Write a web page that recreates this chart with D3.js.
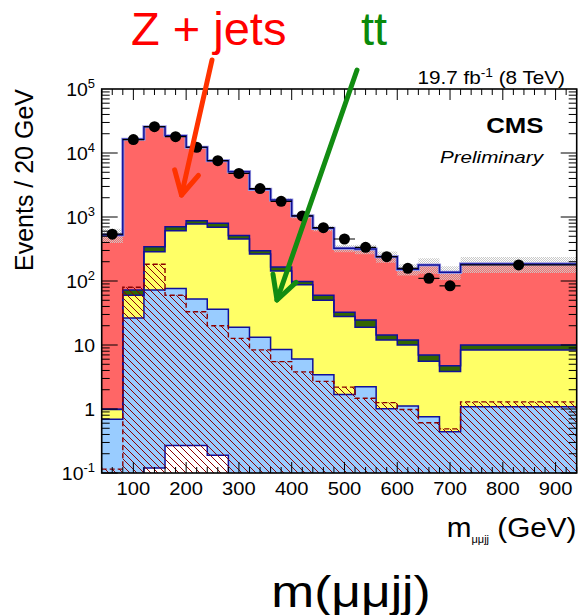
<!DOCTYPE html>
<html>
<head>
<meta charset="utf-8">
<script src="https://cdn.jsdelivr.net/npm/d3@7"></script>
<style>
  body { margin: 0; background: #fff; }
  svg { display: block; font-family: "Liberation Sans", Arial, Helvetica, sans-serif; }
</style>
</head>
<body>
<svg id="chart" width="579" height="615"></svg>
<script>
// m(mumujj) bins, GeV
const binEdges = [40, 80, 120, 160, 200, 240, 280, 320, 360, 400, 440, 480, 520, 560, 600, 640, 680, 720, 940];

// stacked backgrounds, events per bin
const otherBkg     = [0.02, 0.02, 0.12, 0.27, 0.27, 0.19, 0.02, 0.02, 0.02, 0.02, 0.02, 0.02, 0.02, 0.02, 0.02, 0.02, 0.02, 0.02];
const dibosonBkg   = [0.67, 26.5, 72, 76, 52, 36, 19, 13.2, 8.5, 6.0, 3.4, 1.66, 2.2, 0.99, 1.09, 0.74, 0.42, 1.06];
const ttbarBkg     = [0.29, 33.5, 215, 535, 724, 654, 434, 252, 134.5, 81, 46.6, 26.3, 16.8, 11, 8.9, 4.8, 3.4, 7.3];
const singleTopBkg = [0.01, 12, 57, 94, 96, 110, 62, 31, 22, 11, 10, 4.5, 5.6, 2.3, 2, 1.4, 0.9, 1.6];
const zjetsBkg     = [524, 16330, 25360, 17900, 11430, 6800, 4585, 2414, 1680, 942, 606, 292, 291, 226, 140, 171, 132, 175];
const bkgSystFrac  = [0.25, 0.04, 0.04, 0.04, 0.04, 0.04, 0.05, 0.06, 0.06, 0.08, 0.1, 0.13, 0.17, 0.2, 0.2, 0.27, 0.24, 0.28];

// hatched overlay (dashed outline)
const signalHist = [0.115, 80, 183, 60, 33, 20, 12.7, 8.4, 5.5, 3.8, 2.7, 2.2, 1.47, 1.26, 0.98, 0.61, 0.49, 1.29];

// observed data
const dataCounts = [540, 16200, 25800, 18000, 12300, 7600, 4800, 2780, 1760, 1040, 680, 453, 336, 240, 158, 110, 84, 178];

const xTickLabels = [100, 200, 300, 400, 500, 600, 700, 800, 900];
const yTickExps = [-1, 0, 1, 2, 3, 4, 5];

const nBins = binEdges.length - 1;
const svg = d3.select("#chart");

const x = d3.scaleLinear().domain([40, 940]).range([101.7, 576.7]);
const y = d3.scaleLog().domain([0.1, 1e5]).range([473, 89]);
const yv = v => y(Math.max(v, 0.01));

const defs = svg.append("defs");
defs.append("clipPath").attr("id", "plotclip")
  .append("rect").attr("x", x(40)).attr("y", y(1e5))
  .attr("width", x(940) - x(40)).attr("height", y(0.1) - y(1e5));

let hatch = defs.append("pattern").attr("id", "hatch")
  .attr("patternUnits", "userSpaceOnUse").attr("width", 7).attr("height", 7);
[[0, 0, 7, 7], [-1, 6, 1, 8], [6, -1, 8, 1]].forEach(l => {
  hatch.append("line").attr("x1", l[0]).attr("y1", l[1]).attr("x2", l[2]).attr("y2", l[3])
    .attr("stroke", "#8b0000").attr("stroke-width", 1).attr("shape-rendering", "crispEdges");
});
let stip = defs.append("pattern").attr("id", "stipple")
  .attr("patternUnits", "userSpaceOnUse").attr("width", 2).attr("height", 2);
stip.append("rect").attr("x", 0).attr("y", 0).attr("width", 1).attr("height", 1).attr("fill", "#c8c8c8");
stip.append("rect").attr("x", 1).attr("y", 1).attr("width", 1).attr("height", 1).attr("fill", "#c8c8c8");

// stack
const keys = ["other", "diboson", "ttbar", "singletop", "zjets"];
const colors = { other: "#ffffff", diboson: "#99ccff", ttbar: "#ffff66", singletop: "#336600", zjets: "#ff6666" };
const rows = d3.range(nBins).map(i => ({
  other: otherBkg[i], diboson: dibosonBkg[i], ttbar: ttbarBkg[i],
  singletop: singleTopBkg[i], zjets: zjetsBkg[i]
}));
const stacked = d3.stack().keys(keys)(rows);

let steps = (lo, hi) => {
  const pts = [];
  for (let i = 0; i < nBins; i++) {
    pts.push({ x: binEdges[i], lo: lo(i), hi: hi(i) });
    pts.push({ x: binEdges[i + 1], lo: lo(i), hi: hi(i) });
  }
  return pts;
};
const area = d3.area().x(d => x(d.x)).y0(d => yv(d.lo)).y1(d => yv(d.hi));
const topLine = d3.line().x(d => x(d.x)).y(d => yv(d.hi));

const plot = svg.append("g").attr("clip-path", "url(#plotclip)");

stacked.forEach(s => {
  plot.append("path")
    .attr("d", area(steps(i => s[i][0] || 0.001, i => s[i][1])))
    .attr("fill", colors[s.key]);
});

// syst band round the total
const totals = stacked[stacked.length - 1].map(d => d[1]);
plot.append("path")
  .attr("d", area(steps(i => totals[i] * (1 - bkgSystFrac[i]), i => totals[i] * (1 + bkgSystFrac[i]))))
  .attr("fill", "url(#stipple)");

stacked.forEach(s => {
  const last = s.key === "zjets";
  if (last) {
    plot.append("path").attr("d", topLine(steps(i => 0, i => s[i][1])))
      .attr("fill", "none").attr("stroke", "#9a9ae0").attr("stroke-width", 3.2);
  }
  plot.append("path")
    .attr("d", topLine(steps(i => 0, i => s[i][1])))
    .attr("fill", "none").attr("stroke", "#10109a").attr("stroke-width", 1.5);
});

// hatched overlay
plot.append("path")
  .attr("d", area(steps(i => 0.001, i => signalHist[i])))
  .attr("fill", "url(#hatch)");
plot.append("path")
  .attr("d", topLine(steps(i => 0, i => signalHist[i])))
  .attr("fill", "none").attr("stroke", "#8b0000").attr("stroke-width", 1.4)
  .attr("stroke-dasharray", "5,3");

// data
const centers = d3.range(nBins).map(i => (binEdges[i] + binEdges[i + 1]) / 2);
plot.selectAll(".xerr").data(dataCounts).enter().append("line")
  .attr("class", "xerr")
  .attr("x1", (d, i) => x(binEdges[i])).attr("x2", (d, i) => x(binEdges[i + 1]))
  .attr("y1", d => y(d)).attr("y2", d => y(d))
  .attr("stroke", "#000").attr("stroke-width", 1.2);
plot.selectAll(".dot").data(dataCounts).enter().append("circle")
  .attr("class", "dot")
  .attr("cx", (d, i) => x(centers[i])).attr("cy", d => y(d))
  .attr("r", 5.5).attr("fill", "#000");

// ticks, all pointing inward
const tk = svg.append("g").attr("stroke", "#000").attr("stroke-width", 1);
d3.range(40, 941, 20).forEach(v => {
  const len = v % 100 === 0 ? 11 : 6;
  tk.append("line").attr("x1", x(v)).attr("x2", x(v)).attr("y1", y(0.1)).attr("y2", y(0.1) - len);
  tk.append("line").attr("x1", x(v)).attr("x2", x(v)).attr("y1", y(1e5)).attr("y2", y(1e5) + len);
});
for (let e = -1; e < 5; e++) {
  for (let m = 1; m < 10; m++) {
    const v = m * Math.pow(10, e);
    const len = m === 1 ? 16 : 8;
    tk.append("line").attr("x1", x(40)).attr("x2", x(40) + len).attr("y1", y(v)).attr("y2", y(v));
    tk.append("line").attr("x1", x(940)).attr("x2", x(940) - len).attr("y1", y(v)).attr("y2", y(v));
  }
}
svg.append("rect")
  .attr("x", x(40)).attr("y", y(1e5))
  .attr("width", x(940) - x(40)).attr("height", y(0.1) - y(1e5))
  .attr("fill", "none").attr("stroke", "#000").attr("stroke-width", 1.6);

// tick labels
xTickLabels.forEach(v => {
  svg.append("text")
    .attr("transform", `translate(${x(v)},495) scale(1.12,1)`)
    .attr("text-anchor", "middle").attr("font-size", 18).attr("fill", "#000")
    .text(v);
});
yTickExps.forEach(e => {
  const t = svg.append("text")
    .attr("transform", `translate(95,${y(Math.pow(10, e)) + 6.5}) scale(1.08,1)`)
    .attr("text-anchor", "end").attr("font-size", 18).attr("fill", "#000");
  if (e === 0) t.text("1");
  else if (e === 1) t.text("10");
  else {
    t.append("tspan").text("10");
    t.append("tspan").attr("font-size", 12).attr("dy", -8).text(e);
  }
});

// axis titles
svg.append("text")
  .attr("transform", "translate(33,89) rotate(-90)")
  .attr("text-anchor", "end").attr("font-size", 25).attr("fill", "#000")
  .text("Events / 20 GeV");
let xt = svg.append("text")
  .attr("transform", "translate(576.5,537) scale(1.1,1)")
  .attr("text-anchor", "end").attr("font-size", 27).attr("fill", "#000");
xt.append("tspan").text("m");
xt.append("tspan").attr("font-size", 10).attr("dy", 6).text("μμjj");
xt.append("tspan").attr("dy", -6).text(" (GeV)");

// labels inside / above frame
let lumi = svg.append("text")
  .attr("transform", "translate(565,84) scale(1.15,1)")
  .attr("text-anchor", "end").attr("font-size", 18).attr("fill", "#000");
lumi.append("tspan").text("19.7 fb");
lumi.append("tspan").attr("font-size", 12).attr("dy", -7).text("-1");
lumi.append("tspan").attr("dy", 7).text(" (8 TeV)");

svg.append("text")
  .attr("transform", "translate(543.5,132.5) scale(1.2,1)")
  .attr("text-anchor", "end").attr("font-size", 21.5).attr("font-weight", "bold").attr("fill", "#000")
  .text("CMS");
svg.append("text")
  .attr("transform", "translate(543,162.5) scale(1.25,1)")
  .attr("text-anchor", "end").attr("font-size", 16.5).attr("font-style", "italic").attr("fill", "#000")
  .text("Preliminary");

// annotations
svg.append("text").attr("x", 131).attr("y", 45).attr("font-size", 47).attr("fill", "#ff0000").text("Z + jets");
svg.append("text").attr("x", 361).attr("y", 45).attr("font-size", 47).attr("fill", "#0a8a0a").text("tt");

let arrow = (x1, y1, x2, y2, col) => {
  const dx = x1 - x2, dy = y1 - y2, L = Math.hypot(dx, dy);
  const ux = dx / L, uy = dy / L, a = 28 * Math.PI / 180, len = 26;
  const arm = s => [x2 + len * (ux * Math.cos(s * a) - uy * Math.sin(s * a)),
                    y2 + len * (ux * Math.sin(s * a) + uy * Math.cos(s * a))];
  const g = svg.append("g").attr("stroke", col).attr("stroke-width", 5).attr("fill", "none")
    .attr("stroke-linecap", "round").attr("stroke-linejoin", "round");
  g.append("line").attr("x1", x1).attr("y1", y1).attr("x2", x2).attr("y2", y2);
  const p1 = arm(1), p2 = arm(-1);
  g.append("path").attr("d", `M${p1[0]},${p1[1]}L${x2},${y2}L${p2[0]},${p2[1]}`);
};
arrow(212, 60, 181.5, 195, "#ff3300");
arrow(357, 70, 277, 300, "#128c12");

svg.append("text")
  .attr("transform", "translate(351,607) scale(1.17,1)")
  .attr("text-anchor", "middle").attr("font-size", 44).attr("fill", "#000")
  .text("m(μμjj)");
</script>
</body>
</html>
